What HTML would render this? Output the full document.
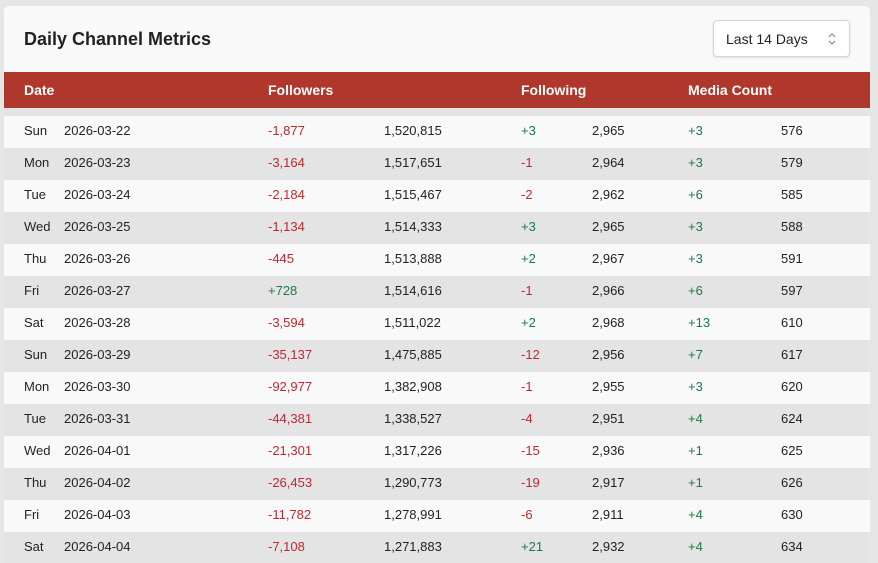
<!DOCTYPE html>
<html><head><style>
html,body{margin:0;width:878px;height:563px;overflow:hidden}
body{background:#e6e6e6;font-family:"Liberation Sans",sans-serif;position:relative}
.card{position:absolute;left:4px;top:6px;width:866px;height:557px;background:#f9f9f9;border-radius:5px 5px 0 0;overflow:hidden}
.title{position:absolute;left:20px;top:23px;font-size:18px;font-weight:bold;color:#222}
.sel{position:absolute;left:709px;top:14px;width:135px;height:35px;border:1px solid #d4d4d4;border-radius:4px;background:#fff;box-shadow:0 1px 2px rgba(0,0,0,.1);font-size:14px;color:#222}
.sel span{position:absolute;left:12px;top:10px}
.sel svg{position:absolute;right:12px;top:10px}
.head{position:absolute;left:0;top:66px;width:866px;height:36px;background:#b0372b;color:#fff;font-weight:bold;font-size:14px}
.head div,.row div{position:absolute}
.head div{top:10px}
.gap{position:absolute;left:0;top:102px;width:866px;height:8px;background:#e4e4e4}
.row{position:absolute;left:0;width:866px;height:32px;font-size:13px;color:#222}
.row div{top:7px}
.r{color:#c0282d}.g{color:#1a7a44}
</style></head><body><div class="card">
<div class="title">Daily Channel Metrics</div>
<div class="sel"><span>Last 14 Days</span><svg width="10" height="16" viewBox="0 0 10 16"><path d="M2 6l3-3 3 3M2 10l3 3 3-3" fill="none" stroke="#999" stroke-width="1.3"/></svg></div>
<div class="head"><div style="left:20px">Date</div><div style="left:264px">Followers</div><div style="left:517px">Following</div><div style="left:684px">Media Count</div></div>
<div class="gap"></div>
<div id="rows"></div>
</div>
<script>
var d=[["Sun","2026-03-22","-1,877","1,520,815","+3","2,965","+3","576"],
["Mon","2026-03-23","-3,164","1,517,651","-1","2,964","+3","579"],
["Tue","2026-03-24","-2,184","1,515,467","-2","2,962","+6","585"],
["Wed","2026-03-25","-1,134","1,514,333","+3","2,965","+3","588"],
["Thu","2026-03-26","-445","1,513,888","+2","2,967","+3","591"],
["Fri","2026-03-27","+728","1,514,616","-1","2,966","+6","597"],
["Sat","2026-03-28","-3,594","1,511,022","+2","2,968","+13","610"],
["Sun","2026-03-29","-35,137","1,475,885","-12","2,956","+7","617"],
["Mon","2026-03-30","-92,977","1,382,908","-1","2,955","+3","620"],
["Tue","2026-03-31","-44,381","1,338,527","-4","2,951","+4","624"],
["Wed","2026-04-01","-21,301","1,317,226","-15","2,936","+1","625"],
["Thu","2026-04-02","-26,453","1,290,773","-19","2,917","+1","626"],
["Fri","2026-04-03","-11,782","1,278,991","-6","2,911","+4","630"],
["Sat","2026-04-04","-7,108","1,271,883","+21","2,932","+4","634"]];
var x=[20,60,264,380,517,588,684,777],h="";
d.forEach(function(r,i){h+='<div class="row" style="top:'+(110+32*i)+'px;background:'+(i%2?'#e4e4e4':'#f9f9f9')+'">';
r.forEach(function(v,j){var c=(j==2||j==4||j==6)?(v[0]=='-'?'r':'g'):'';h+='<div class="'+c+'" style="left:'+x[j]+'px">'+v+'</div>';});h+='</div>';});
document.getElementById('rows').innerHTML=h;
</script>
</body></html>
